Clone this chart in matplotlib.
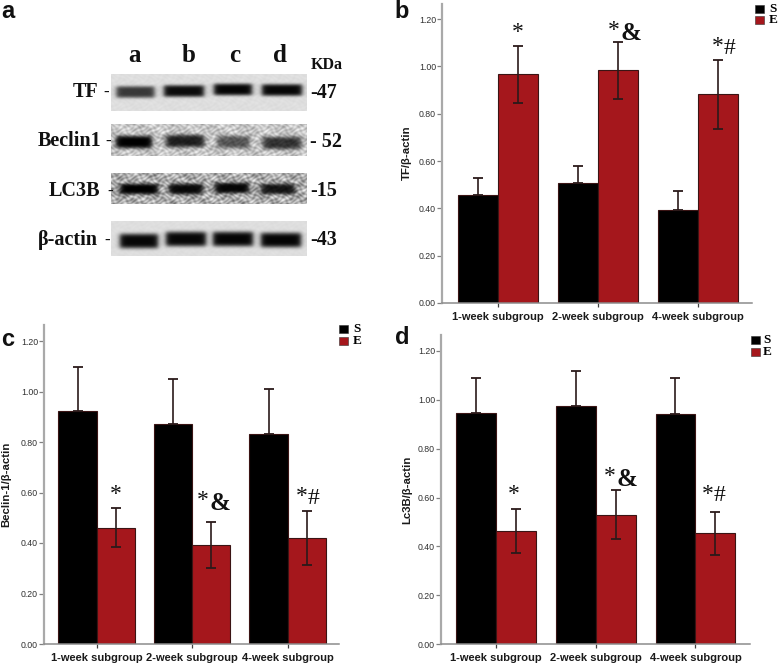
import numpy as np
import matplotlib
matplotlib.use("Agg")
import matplotlib.pyplot as plt
from matplotlib.patches import Rectangle

W, H = 778, 666
SANS = "Liberation Sans"
SERIF = "Liberation Serif"
BLACK = "#000000"
RED = "#a5171c"
EDGE = "#3a1414"

categories = ["1-week subgroup", "2-week subgroup", "4-week subgroup"]
yticks = [0.0, 0.2, 0.4, 0.6, 0.8, 1.0, 1.2]
series_names = ["S", "E"]

tf_s = [0.455, 0.505, 0.395]
tf_s_top = [0.53, 0.58, 0.472]
tf_e = [0.967, 0.983, 0.882]
tf_e_top = [1.087, 1.103, 1.028]

bec_s = [0.922, 0.872, 0.831]
bec_s_top = [1.097, 1.049, 1.008]
bec_e = [0.46, 0.391, 0.42]
bec_e_top = [0.537, 0.482, 0.527]

lc3_s = [0.945, 0.976, 0.942]
lc3_s_top = [1.089, 1.118, 1.088]
lc3_e = [0.463, 0.53, 0.453]
lc3_e_top = [0.552, 0.632, 0.541]

# western blot: relative band strength per lane
lanes = ["a", "b", "c", "d"]
blot_names = ["TF", "Beclin1", "LC3B", "β-actin"]
blot_kda = ["-47", "- 52", "-15", "-43"]
tf_band = [0.75, 0.95, 0.98, 0.97]
beclin_band = [1.0, 0.85, 0.58, 0.75]
lc3_band = [1.0, 0.95, 0.97, 0.88]
actin_band = [0.97, 0.97, 0.98, 0.98]

fig = plt.figure(figsize=(W / 100, H / 100), dpi=100, facecolor="white")
over = fig.add_axes([0, 0, 1, 1], zorder=5)
over.set_xlim(0, W)
over.set_ylim(H, 0)
over.axis("off")
over.patch.set_alpha(0)


def bar_panel(x0, x1, ytop, y0, y120, c0, dc, s, s_top, e, e_top, ylabel, ylab_x, leg, letter):
    ax = fig.add_axes([x0 / W, 1 - y0 / H, (x1 - x0) / W, (y0 - ytop) / H])
    unit = (y0 - y120) / 1.2
    ax.set_ylim(0, (y0 - ytop) / unit)
    ax.set_xlim((x0 - c0) / dc, (x1 - c0) / dc)
    pos = np.arange(len(categories))
    s, s_top, e, e_top = map(np.array, (s, s_top, e, e_top))
    ax.bar(pos - 0.2, s, 0.4, color=BLACK, edgecolor=EDGE, linewidth=0.8, zorder=2)
    ax.bar(pos + 0.2, e, 0.4, color=RED, edgecolor=EDGE, linewidth=0.8, zorder=2)
    ekw = dict(fmt="none", ecolor="#2b1a1a", elinewidth=1.2, capsize=3.4, capthick=1.3, zorder=3)
    # the lower arm of the black bars' whiskers cannot be seen against the bar
    ax.errorbar(pos - 0.2, s, yerr=[np.zeros_like(s), s_top - s], **ekw)
    ax.errorbar(pos + 0.2, e, yerr=e_top - e, **ekw)
    for side in ("top", "right"):
        ax.spines[side].set_visible(False)
    ax.spines["left"].set_color("#a9a9a9")
    ax.spines["left"].set_linewidth(1.6)
    ax.spines["bottom"].set_color("#8c8c8c")
    ax.spines["bottom"].set_linewidth(1.1)
    ax.set_yticks(yticks)
    ax.set_yticklabels([f"{t:.2f}" for t in yticks], fontsize=6.3, family=SANS, color="#303030")
    ax.set_xticks(pos)
    ax.set_xticklabels(categories, fontsize=8.0, family=SANS, fontweight="bold", color="#1a1a1a")
    ax.tick_params(axis="y", length=3.5, width=0.9, color="#808080", pad=0.8)
    ax.tick_params(axis="x", length=3, width=0.9, color="#404040", pad=3.3)
    over.text(ylab_x, (y0 + y120) / 2 - 8, ylabel, rotation=90, ha="center", va="center",
              fontsize=8.2, family=SANS, fontweight="bold", color="#1a1a1a")
    sx, sy1, sy2, lx = leg
    for yy, col, name in zip((sy1, sy2), (BLACK, RED), series_names):
        over.add_patch(Rectangle((sx, yy - 4), 9.5, 8, facecolor=col, edgecolor="#333333", linewidth=0.4))
        over.text(lx, yy, name, ha="center", va="center", fontsize=9.5, family=SERIF, fontweight="bold")
    over.text(letter[0], letter[1], letter[2], ha="center", va="center", fontsize=17,
              family=SANS, fontweight="bold", color="#111111")


bar_panel(442, 752, 4, 303, 19, 498, 100, tf_s, tf_s_top, tf_e, tf_e_top,
          "TF/β-actin", 407, (755, 9, 20, 773), (402, 12, "b"))
bar_panel(44, 339, 325, 644, 341, 96.7, 95.5, bec_s, bec_s_top, bec_e, bec_e_top,
          "Beclin-1/β-actin", 6.5, (339, 329, 341, 357), (8, 339, "c"))
bar_panel(441, 750, 335, 644, 351, 496, 99.7, lc3_s, lc3_s_top, lc3_e, lc3_e_top,
          "Lc3B/β-actin", 407, (751, 340, 352, 767), (402, 337, "d"))


def marks(x, y, tail=None):
    over.text(x, y, "*", ha="center", va="center", fontsize=17, family=SERIF, color="#111111")
    if tail == "&":
        over.text(x + 16.5, y + 3, "&", ha="center", va="center", fontsize=18, family=SERIF,
                  fontweight="bold", color="#111111")
    elif tail == "#":
        over.text(x + 12, y + 1.5, "#", ha="center", va="center", fontsize=17, family=SERIF, color="#111111")


marks(518, 32)
marks(614, 30, "&")
marks(718, 47, "#")
marks(116, 495)
marks(203, 501, "&")
marks(302, 497, "#")
marks(514, 495)
marks(610, 476, "&")
marks(708, 494, "#")


# ---- panel a: western blot ----
def blot(y0, y1, bg, grain, strengths, centers, half, yc, thick):
    x0, x1 = 111, 307
    xs = np.arange(x0, x1) + 0.5
    ys = np.arange(y0, y1) + 0.5
    X, Y = np.meshgrid(xs, ys)
    tex = (np.sin(X * 0.83 + 1.3 * np.sin(Y * 0.53)) * np.sin(Y * 1.07 + 1.1 * np.sin(X * 0.47))
           + 0.7 * np.sin(X * 0.31 + 1.7 * np.sin(Y * 0.29)) * np.sin(Y * 0.61 + X * 0.13))
    img = bg + grain * tex
    for st, c, h, y in zip(strengths, centers, half, yc):
        b = 1 / (1 + np.exp((np.abs(X - c) - h) / 1.5)) * np.exp(-np.abs((Y - y) / thick) ** 4)
        img = img * (1 - st * b)
    over.imshow(np.clip(img, 0, 1), cmap="gray", vmin=0, vmax=1, extent=(x0, x1, y1, y0),
                aspect="auto", interpolation="bilinear", zorder=1)


blot(74, 111, 0.87, 0.012, tf_band, [135.5, 184, 233, 282], [19, 20, 19, 20], [92, 91, 89.5, 90], 6)
blot(124, 156, 0.78, 0.10, beclin_band, [134, 185, 233.5, 282], [18, 19, 16, 19], [142, 141, 142, 143], 6.5)
blot(173, 204, 0.68, 0.15, lc3_band, [139, 186, 232, 278], [19, 17, 17, 17], [189, 189, 188, 189], 5.5)
blot(221, 256, 0.87, 0.008, actin_band, [139, 186, 233, 281], [19, 20, 20, 20], [241, 239, 239, 240], 7.5)
over.set_xlim(0, W)
over.set_ylim(H, 0)

for name, x, y in zip(lanes, (135, 188.5, 235, 280), (56, 56, 56, 55)):
    over.text(x, y, name, ha="center", va="center", fontsize=18, family=SERIF, fontweight="bold", color="#111111")
over.text(327, 65, "KDa", ha="center", va="center", fontsize=11.5, family=SERIF, fontweight="bold", color="#111111")

for name, xr, y, tick in zip(blot_names, (98, 101, 100, 98), (92, 141, 191, 240), (106, 108, 110, 107)):
    over.text(xr, y, name, ha="right", va="center", fontsize=14.5, family=[SERIF, "DejaVu Serif"],
              fontweight="bold", color="#111111")
    over.text(tick, y + 1, "-", ha="center", va="center", fontsize=12, family=SERIF, fontweight="bold", color="#111111")
for k, x, y in zip(blot_kda, (310, 310, 310, 310), (93, 142, 191, 240)):
    over.text(x, y, k, ha="left", va="center", fontsize=14.5, family=SERIF, fontweight="bold", color="#111111")
over.text(8, 12, "a", ha="center", va="center", fontsize=17, family=SANS, fontweight="bold", color="#111111")

fig.savefig("out.png", dpi=100, facecolor="white")
